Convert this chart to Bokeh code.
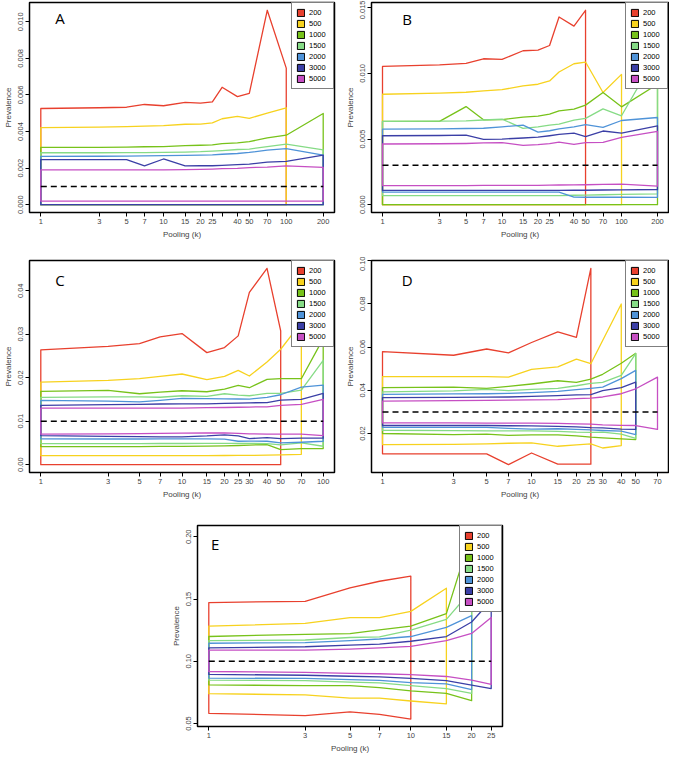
import numpy as np
from bokeh.plotting import figure
from bokeh.layouts import column, row, Spacer
from bokeh.models import (FixedTicker, PrintfTickFormatter, Legend, LegendItem,
                          Label, Range1d)
from bokeh.embed import file_html
from bokeh.resources import INLINE

SIZES = [200, 500, 1000, 1500, 2000, 3000, 5000]
COLORS = ["#E8402E", "#F7D21E", "#77C21A", "#86DB86", "#4F93D8", "#3B3FA6", "#C64FC3"]

# ---------------- Panel A ----------------
A_K = [1, 3, 5, 7, 10, 15, 20, 25, 30, 40, 50, 70, 100, 200]
A_PREV = 0.001
A_YTICKS = [0.000, 0.002, 0.004, 0.006, 0.008, 0.010]
A_U_200 = [0.00526, 0.00530, 0.00533, 0.00548, 0.00541, 0.00560, 0.00555, 0.00562, 0.00642, 0.00591, 0.00609, 0.01063, 0.00747]
A_L_200 = [0, 0, 0, 0, 0, 0, 0, 0, 0, 0, 0, 0, 0]
A_U_500 = [0.00421, 0.00424, 0.00427, 0.00430, 0.00432, 0.00440, 0.00441, 0.00447, 0.00470, 0.00483, 0.00472, 0.00501, 0.00530]
A_L_500 = [0, 0, 0, 0, 0, 0, 0, 0, 0, 0, 0, 0, 0]
A_U_1000 = [0.00313, 0.00314, 0.00315, 0.00317, 0.00318, 0.00323, 0.00325, 0.00327, 0.00334, 0.00338, 0.00345, 0.00365, 0.00380, 0.00499]
A_L_1000 = [0, 0, 0, 0, 0, 0, 0, 0, 0, 0, 0, 0, 0, 0]
A_U_1500 = [0.00284, 0.00284, 0.00285, 0.00285, 0.00286, 0.00288, 0.00290, 0.00293, 0.00296, 0.00302, 0.00304, 0.00318, 0.00331, 0.00300]
A_L_1500 = [0, 0, 0, 0, 0, 0, 0, 0, 0, 0, 0, 0, 0, 0]
A_U_2000 = [0.00264, 0.00265, 0.00266, 0.00267, 0.00268, 0.00270, 0.00271, 0.00273, 0.00276, 0.00280, 0.00286, 0.00298, 0.00307, 0.00271]
A_L_2000 = [0, 0, 0, 0, 0, 0, 0, 0, 0, 0, 0, 0, 0, 0]
A_U_3000 = [0.00246, 0.00246, 0.00246, 0.00212, 0.00250, 0.00212, 0.00213, 0.00213, 0.00215, 0.00219, 0.00222, 0.00233, 0.00237, 0.00271]
A_L_3000 = [0, 0, 0, 0, 0, 0, 0, 0, 0, 0, 0, 0, 0, 0]
A_U_5000 = [0.00190, 0.00190, 0.00190, 0.00190, 0.00190, 0.00192, 0.00193, 0.00195, 0.00197, 0.00199, 0.00203, 0.00206, 0.00212, 0.00204]
A_L_5000 = [0.0002, 0.0002, 0.0002, 0.0002, 0.0002, 0.0002, 0.0002, 0.0002, 0.0002, 0.0002, 0.0002, 0.0002, 0.0002, 0.0002]

# ---------------- Panel B ----------------
B_K = [1, 3, 5, 7, 10, 15, 20, 25, 30, 40, 50, 70, 100, 200]
B_PREV = 0.003
B_YTICKS = [0.000, 0.005, 0.010, 0.015]
B_U_200 = [0.01053, 0.01065, 0.01076, 0.01111, 0.01106, 0.01172, 0.01177, 0.01212, 0.01429, 0.01359, 0.01480]
B_L_200 = [0, 0, 0, 0, 0, 0, 0, 0, 0, 0, 0]
B_U_500 = [0.00841, 0.00849, 0.00856, 0.00866, 0.00876, 0.00904, 0.00917, 0.00942, 0.01010, 0.01073, 0.01086, 0.00854, 0.00992]
B_L_500 = [0, 0, 0, 0, 0, 0, 0, 0, 0, 0, 0, 0, 0]
B_U_1000 = [0.00634, 0.00634, 0.00747, 0.00646, 0.00648, 0.00667, 0.00674, 0.00689, 0.00715, 0.00727, 0.00758, 0.00854, 0.00745, 0.00917]
B_L_1000 = [0, 0, 0, 0, 0, 0, 0, 0, 0, 0, 0, 0, 0, 0]
B_U_1500 = [0.00634, 0.00636, 0.00638, 0.00645, 0.00652, 0.00581, 0.00593, 0.00606, 0.00614, 0.00644, 0.00657, 0.00730, 0.00677, 0.01152]
B_L_1500 = [0.00070, 0.00070, 0.00070, 0.00070, 0.00070, 0.00070, 0.00070, 0.00070, 0.00070, 0.00072, 0.00073, 0.00076, 0.00078, 0.00083]
B_U_2000 = [0.00576, 0.00578, 0.00580, 0.00582, 0.00593, 0.00606, 0.00553, 0.00563, 0.00578, 0.00593, 0.00609, 0.00588, 0.00641, 0.00664]
B_L_2000 = [0.00096, 0.00096, 0.00096, 0.00096, 0.00096, 0.00096, 0.00096, 0.00096, 0.00096, 0.00058, 0.00057, 0.00057, 0.00057, 0.00056]
B_U_3000 = [0.00525, 0.00527, 0.00530, 0.00497, 0.00500, 0.00508, 0.00514, 0.00525, 0.00535, 0.00545, 0.00518, 0.00561, 0.00545, 0.00601]
B_L_3000 = [0.00109, 0.00109, 0.00109, 0.00109, 0.00109, 0.00109, 0.00109, 0.00109, 0.00109, 0.00110, 0.00110, 0.00112, 0.00113, 0.00116]
B_U_5000 = [0.00462, 0.00464, 0.00466, 0.00470, 0.00472, 0.00452, 0.00457, 0.00465, 0.00477, 0.00460, 0.00472, 0.00475, 0.00513, 0.00558]
B_L_5000 = [0.00146, 0.00146, 0.00146, 0.00147, 0.00147, 0.00148, 0.00148, 0.00149, 0.00150, 0.00151, 0.00152, 0.00155, 0.00157, 0.00141]

# ---------------- Panel C ----------------
C_K = [1, 3, 5, 7, 10, 15, 20, 25, 30, 40, 50, 70, 100]
C_PREV = 0.01
C_YTICKS = [0.00, 0.01, 0.02, 0.03, 0.04]
C_U_200 = [0.02638, 0.02720, 0.02785, 0.02938, 0.03015, 0.02577, 0.02692, 0.02962, 0.03962, 0.04515, 0.03077]
C_L_200 = [0, 0, 0, 0, 0, 0, 0, 0, 0, 0, 0]
C_U_500 = [0.01900, 0.01940, 0.01977, 0.02030, 0.02085, 0.01954, 0.02031, 0.02169, 0.02038, 0.02362, 0.02654, 0.03269]
C_L_500 = [0.00208, 0.00208, 0.00208, 0.00208, 0.00208, 0.00208, 0.00210, 0.00212, 0.00214, 0.00218, 0.00223, 0.00238]
C_U_1000 = [0.01685, 0.01708, 0.01631, 0.01669, 0.01700, 0.01677, 0.01738, 0.01823, 0.01769, 0.01962, 0.01977, 0.01977, 0.02900]
C_L_1000 = [0.00415, 0.00415, 0.00416, 0.00418, 0.00420, 0.00425, 0.00430, 0.00440, 0.00450, 0.00462, 0.00346, 0.00369, 0.00369]
C_U_1500 = [0.01546, 0.01560, 0.01560, 0.01550, 0.01585, 0.01570, 0.01631, 0.01600, 0.01585, 0.01638, 0.01640, 0.01715, 0.02400]
C_L_1500 = [0.00485, 0.00485, 0.00485, 0.00487, 0.00487, 0.00488, 0.00490, 0.00490, 0.00490, 0.00485, 0.00454, 0.00500, 0.00423]
C_U_2000 = [0.01477, 0.01460, 0.01446, 0.01480, 0.01523, 0.01520, 0.01515, 0.01510, 0.01508, 0.01546, 0.01608, 0.01785, 0.01831]
C_L_2000 = [0.00592, 0.00590, 0.00590, 0.00592, 0.00594, 0.00594, 0.00585, 0.00538, 0.00540, 0.00538, 0.00500, 0.00515, 0.00538]
C_U_3000 = [0.01362, 0.01380, 0.01385, 0.01395, 0.01400, 0.01400, 0.01410, 0.01415, 0.01423, 0.01425, 0.01485, 0.01500, 0.01638]
C_L_3000 = [0.00669, 0.00650, 0.00645, 0.00640, 0.00638, 0.00660, 0.00685, 0.00660, 0.00600, 0.00620, 0.00600, 0.00608, 0.00608]
C_U_5000 = [0.01300, 0.01300, 0.01300, 0.01300, 0.01300, 0.01310, 0.01315, 0.01320, 0.01325, 0.01331, 0.01362, 0.01385, 0.01500]
C_L_5000 = [0.00700, 0.00710, 0.00715, 0.00720, 0.00723, 0.00728, 0.00731, 0.00720, 0.00710, 0.00700, 0.00700, 0.00700, 0.00669]

# ---------------- Panel D ----------------
D_K = [1, 3, 5, 7, 10, 15, 20, 25, 30, 40, 50, 70]
D_PREV = 0.03
D_YTICKS = [0.02, 0.04, 0.06, 0.08, 0.10]
D_U_200 = [0.0579, 0.0562, 0.0591, 0.0573, 0.0621, 0.0670, 0.0645, 0.0964]
D_L_200 = [0.0106, 0.0106, 0.0106, 0.0056, 0.0110, 0.0058, 0.0058, 0.0058]
D_U_500 = [0.0463, 0.0463, 0.0463, 0.0461, 0.0497, 0.0508, 0.0544, 0.0523, 0.0630, 0.0799]
D_L_500 = [0.0149, 0.0150, 0.0152, 0.0155, 0.0157, 0.0141, 0.0147, 0.0152, 0.0133, 0.0144]
D_U_1000 = [0.0412, 0.0415, 0.0409, 0.0418, 0.0429, 0.0444, 0.0437, 0.0452, 0.0474, 0.0525, 0.0571]
D_L_1000 = [0.0200, 0.0195, 0.0197, 0.0191, 0.0194, 0.0194, 0.0189, 0.0183, 0.0180, 0.0175, 0.0172]
D_U_1500 = [0.0393, 0.0397, 0.0404, 0.0398, 0.0404, 0.0409, 0.0421, 0.0432, 0.0437, 0.0469, 0.0570]
D_L_1500 = [0.0215, 0.0213, 0.0212, 0.0212, 0.0212, 0.0210, 0.0206, 0.0205, 0.0206, 0.0197, 0.0178]
D_U_2000 = [0.0381, 0.0383, 0.0384, 0.0386, 0.0389, 0.0395, 0.0403, 0.0409, 0.0415, 0.0454, 0.0492]
D_L_2000 = [0.0229, 0.0228, 0.0228, 0.0224, 0.0220, 0.0222, 0.0219, 0.0217, 0.0214, 0.0211, 0.0195]
D_U_3000 = [0.0366, 0.0367, 0.0368, 0.0369, 0.0372, 0.0375, 0.0379, 0.0380, 0.0398, 0.0412, 0.0438]
D_L_3000 = [0.0237, 0.0237, 0.0237, 0.0236, 0.0235, 0.0233, 0.0231, 0.0227, 0.0226, 0.0220, 0.0219]
D_U_5000 = [0.0350, 0.0352, 0.0353, 0.0354, 0.0356, 0.0357, 0.0361, 0.0364, 0.0369, 0.0384, 0.0407, 0.0461]
D_L_5000 = [0.0249, 0.0249, 0.0248, 0.0248, 0.0248, 0.0247, 0.0245, 0.0243, 0.0240, 0.0238, 0.0237, 0.0219]

# ---------------- Panel E ----------------
E_K = [1, 3, 5, 7, 10, 15, 20, 25]
E_PREV = 0.10
E_YTICKS = [0.05, 0.10, 0.15, 0.20]
E_U_200 = [0.1472, 0.1482, 0.1589, 0.1643, 0.1684]
E_L_200 = [0.0582, 0.0564, 0.0594, 0.0574, 0.0536]
E_U_500 = [0.1283, 0.1304, 0.1350, 0.1350, 0.1401, 0.1587]
E_L_500 = [0.0740, 0.0730, 0.0704, 0.0704, 0.0681, 0.0658]
E_U_1000 = [0.1199, 0.1217, 0.1222, 0.1253, 0.1283, 0.1383, 0.2031]
E_L_1000 = [0.0811, 0.0804, 0.0804, 0.0788, 0.0763, 0.0742, 0.0684]
E_U_1500 = [0.1166, 0.1171, 0.1191, 0.1196, 0.1250, 0.1337, 0.1571]
E_L_1500 = [0.0849, 0.0845, 0.0832, 0.0826, 0.0804, 0.0781, 0.0742]
E_U_2000 = [0.1145, 0.1150, 0.1166, 0.1179, 0.1199, 0.1273, 0.1367]
E_L_2000 = [0.0865, 0.0862, 0.0852, 0.0847, 0.0829, 0.0819, 0.0773]
E_U_3000 = [0.1107, 0.1117, 0.1130, 0.1138, 0.1161, 0.1199, 0.1316, 0.1490]
E_L_3000 = [0.0895, 0.0888, 0.0880, 0.0875, 0.0862, 0.0844, 0.0809, 0.0781]
E_U_5000 = [0.1089, 0.1089, 0.1097, 0.1107, 0.1120, 0.1166, 0.1224, 0.1352]
E_L_5000 = [0.0918, 0.0911, 0.0903, 0.0900, 0.0893, 0.0878, 0.0849, 0.0814]

TICK_FONT = "Liberation Sans"


def make_panel(letter, ks, ups, los, prev, yticks, yfmt, w, h, borders,
               letter_pos, hide30=False):
    allv = [v for s in ups + los for v in s]
    ymin, ymax = min(allv), max(allv)
    pad = 0.04 * (ymax - ymin)
    ylo, yhi = ymin - pad, ymax + pad
    l0, l1 = np.log10(ks[0]), np.log10(ks[-1])
    L = l1 - l0
    xlo, xhi = 10 ** (l0 - 0.04 * L), 10 ** (l1 + 0.04 * L)

    p = figure(width=w, height=h, x_axis_type="log",
               x_range=Range1d(xlo, xhi), y_range=Range1d(ylo, yhi),
               output_backend="svg", toolbar_location=None,
               min_border_left=borders[0], min_border_right=borders[1],
               min_border_top=borders[2], min_border_bottom=borders[3])
    p.background_fill_color = "white"
    p.border_fill_color = "white"
    p.outline_line_color = "black"
    p.outline_line_width = 1.5
    p.xgrid.visible = False
    p.ygrid.visible = False

    for c, up, lo in zip(COLORS, ups, los):
        kk = ks[:len(up)]
        xs = list(kk) + list(kk[::-1])
        ys = list(up) + list(lo[::-1])
        p.patch(xs, ys, fill_color=None, line_color=c, line_width=1.3,
                line_join="round")

    p.line([ks[0], ks[-1]], [prev, prev], line_color="black", line_width=1.5,
           line_dash="6 4")

    # legend-only swatches (no visible data)
    nan = np.array([np.nan])
    items = []
    for n, c in zip(SIZES, COLORS):
        r = p.quad(left=nan, right=nan, top=nan, bottom=nan, fill_color=c,
                   line_color="black", line_width=1)
        items.append(LegendItem(label=str(n), renderers=[r]))
    leg = Legend(items=items, location="top_right", margin=0, padding=4,
                 spacing=0, label_height=11, glyph_height=9, glyph_width=9,
                 label_standoff=4, label_text_font_size="7.5px",
                 label_text_font=TICK_FONT, label_text_color="black",
                 border_line_color="black",
                 border_line_width=1.5, background_fill_color="white",
                 background_fill_alpha=1.0)
    p.add_layout(leg)

    p.xaxis.ticker = FixedTicker(ticks=ks, minor_ticks=[])
    p.xaxis.formatter = PrintfTickFormatter(format="%d")
    if hide30:
        p.xaxis.major_label_overrides = {30: ""}
    p.yaxis.ticker = FixedTicker(ticks=yticks, minor_ticks=[])
    p.yaxis.formatter = PrintfTickFormatter(format=yfmt)
    p.yaxis.major_label_orientation = "vertical"
    p.xaxis.axis_label = "Pooling (k)"
    p.yaxis.axis_label = "Prevalence"
    for ax in (p.xaxis[0], p.yaxis[0]):
        ax.axis_line_color = None
        ax.major_tick_in = 0
        ax.major_tick_out = 4
        ax.major_tick_line_width = 1
        ax.minor_tick_line_color = None
        ax.major_label_text_font = TICK_FONT
        ax.major_label_text_font_size = "7.5px"
        ax.major_label_standoff = 2
        ax.axis_label_text_font = TICK_FONT
        ax.axis_label_text_font_size = "8px"
        ax.axis_label_text_font_style = "normal"
        ax.axis_label_standoff = 3

    fx, fy = letter_pos
    lx = 10 ** (np.log10(xlo) + fx * (np.log10(xhi) - np.log10(xlo)))
    ly = yhi - fy * (yhi - ylo)
    p.add_layout(Label(x=lx, y=ly, text=letter, text_font="Open Sans",
                       text_font_size="15px", text_align="center",
                       text_baseline="middle", text_color="black"))
    return p


pA = make_panel("A", A_K,
                [A_U_200, A_U_500, A_U_1000, A_U_1500, A_U_2000, A_U_3000, A_U_5000],
                [A_L_200, A_L_500, A_L_1000, A_L_1500, A_L_2000, A_L_3000, A_L_5000],
                A_PREV, A_YTICKS, "%.3f", 342, 256, (24, 8, 2, 44),
                (0.10, 0.075), hide30=True)
pB = make_panel("B", B_K,
                [B_U_200, B_U_500, B_U_1000, B_U_1500, B_U_2000, B_U_3000, B_U_5000],
                [B_L_200, B_L_500, B_L_1000, B_L_1500, B_L_2000, B_L_3000, B_L_5000],
                B_PREV, B_YTICKS, "%.3f", 327, 256, (24, 1, 2, 44),
                (0.12, 0.08), hide30=True)
pC = make_panel("C", C_K,
                [C_U_200, C_U_500, C_U_1000, C_U_1500, C_U_2000, C_U_3000, C_U_5000],
                [C_L_200, C_L_500, C_L_1000, C_L_1500, C_L_2000, C_L_3000, C_L_5000],
                C_PREV, C_YTICKS, "%.2f", 342, 254, (24, 8, 4, 38),
                (0.10, 0.094))
pD = make_panel("D", D_K,
                [D_U_200, D_U_500, D_U_1000, D_U_1500, D_U_2000, D_U_3000, D_U_5000],
                [D_L_200, D_L_500, D_L_1000, D_L_1500, D_L_2000, D_L_3000, D_L_5000],
                D_PREV, D_YTICKS, "%.2f", 327, 254, (24, 1, 4, 38),
                (0.12, 0.09))
pE = make_panel("E", E_K,
                [E_U_200, E_U_500, E_U_1000, E_U_1500, E_U_2000, E_U_3000, E_U_5000],
                [E_L_200, E_L_500, E_L_1000, E_L_1500, E_L_2000, E_L_3000, E_L_5000],
                E_PREV, E_YTICKS, "%.2f", 339, 245, (24, 5, 15, 27),
                (0.058, 0.094))

layout = column(row(pA, pB), row(pC, pD), row(Spacer(width=168, height=245), pE))

with open("out.html", "w") as f:
    f.write(file_html(layout, INLINE))
